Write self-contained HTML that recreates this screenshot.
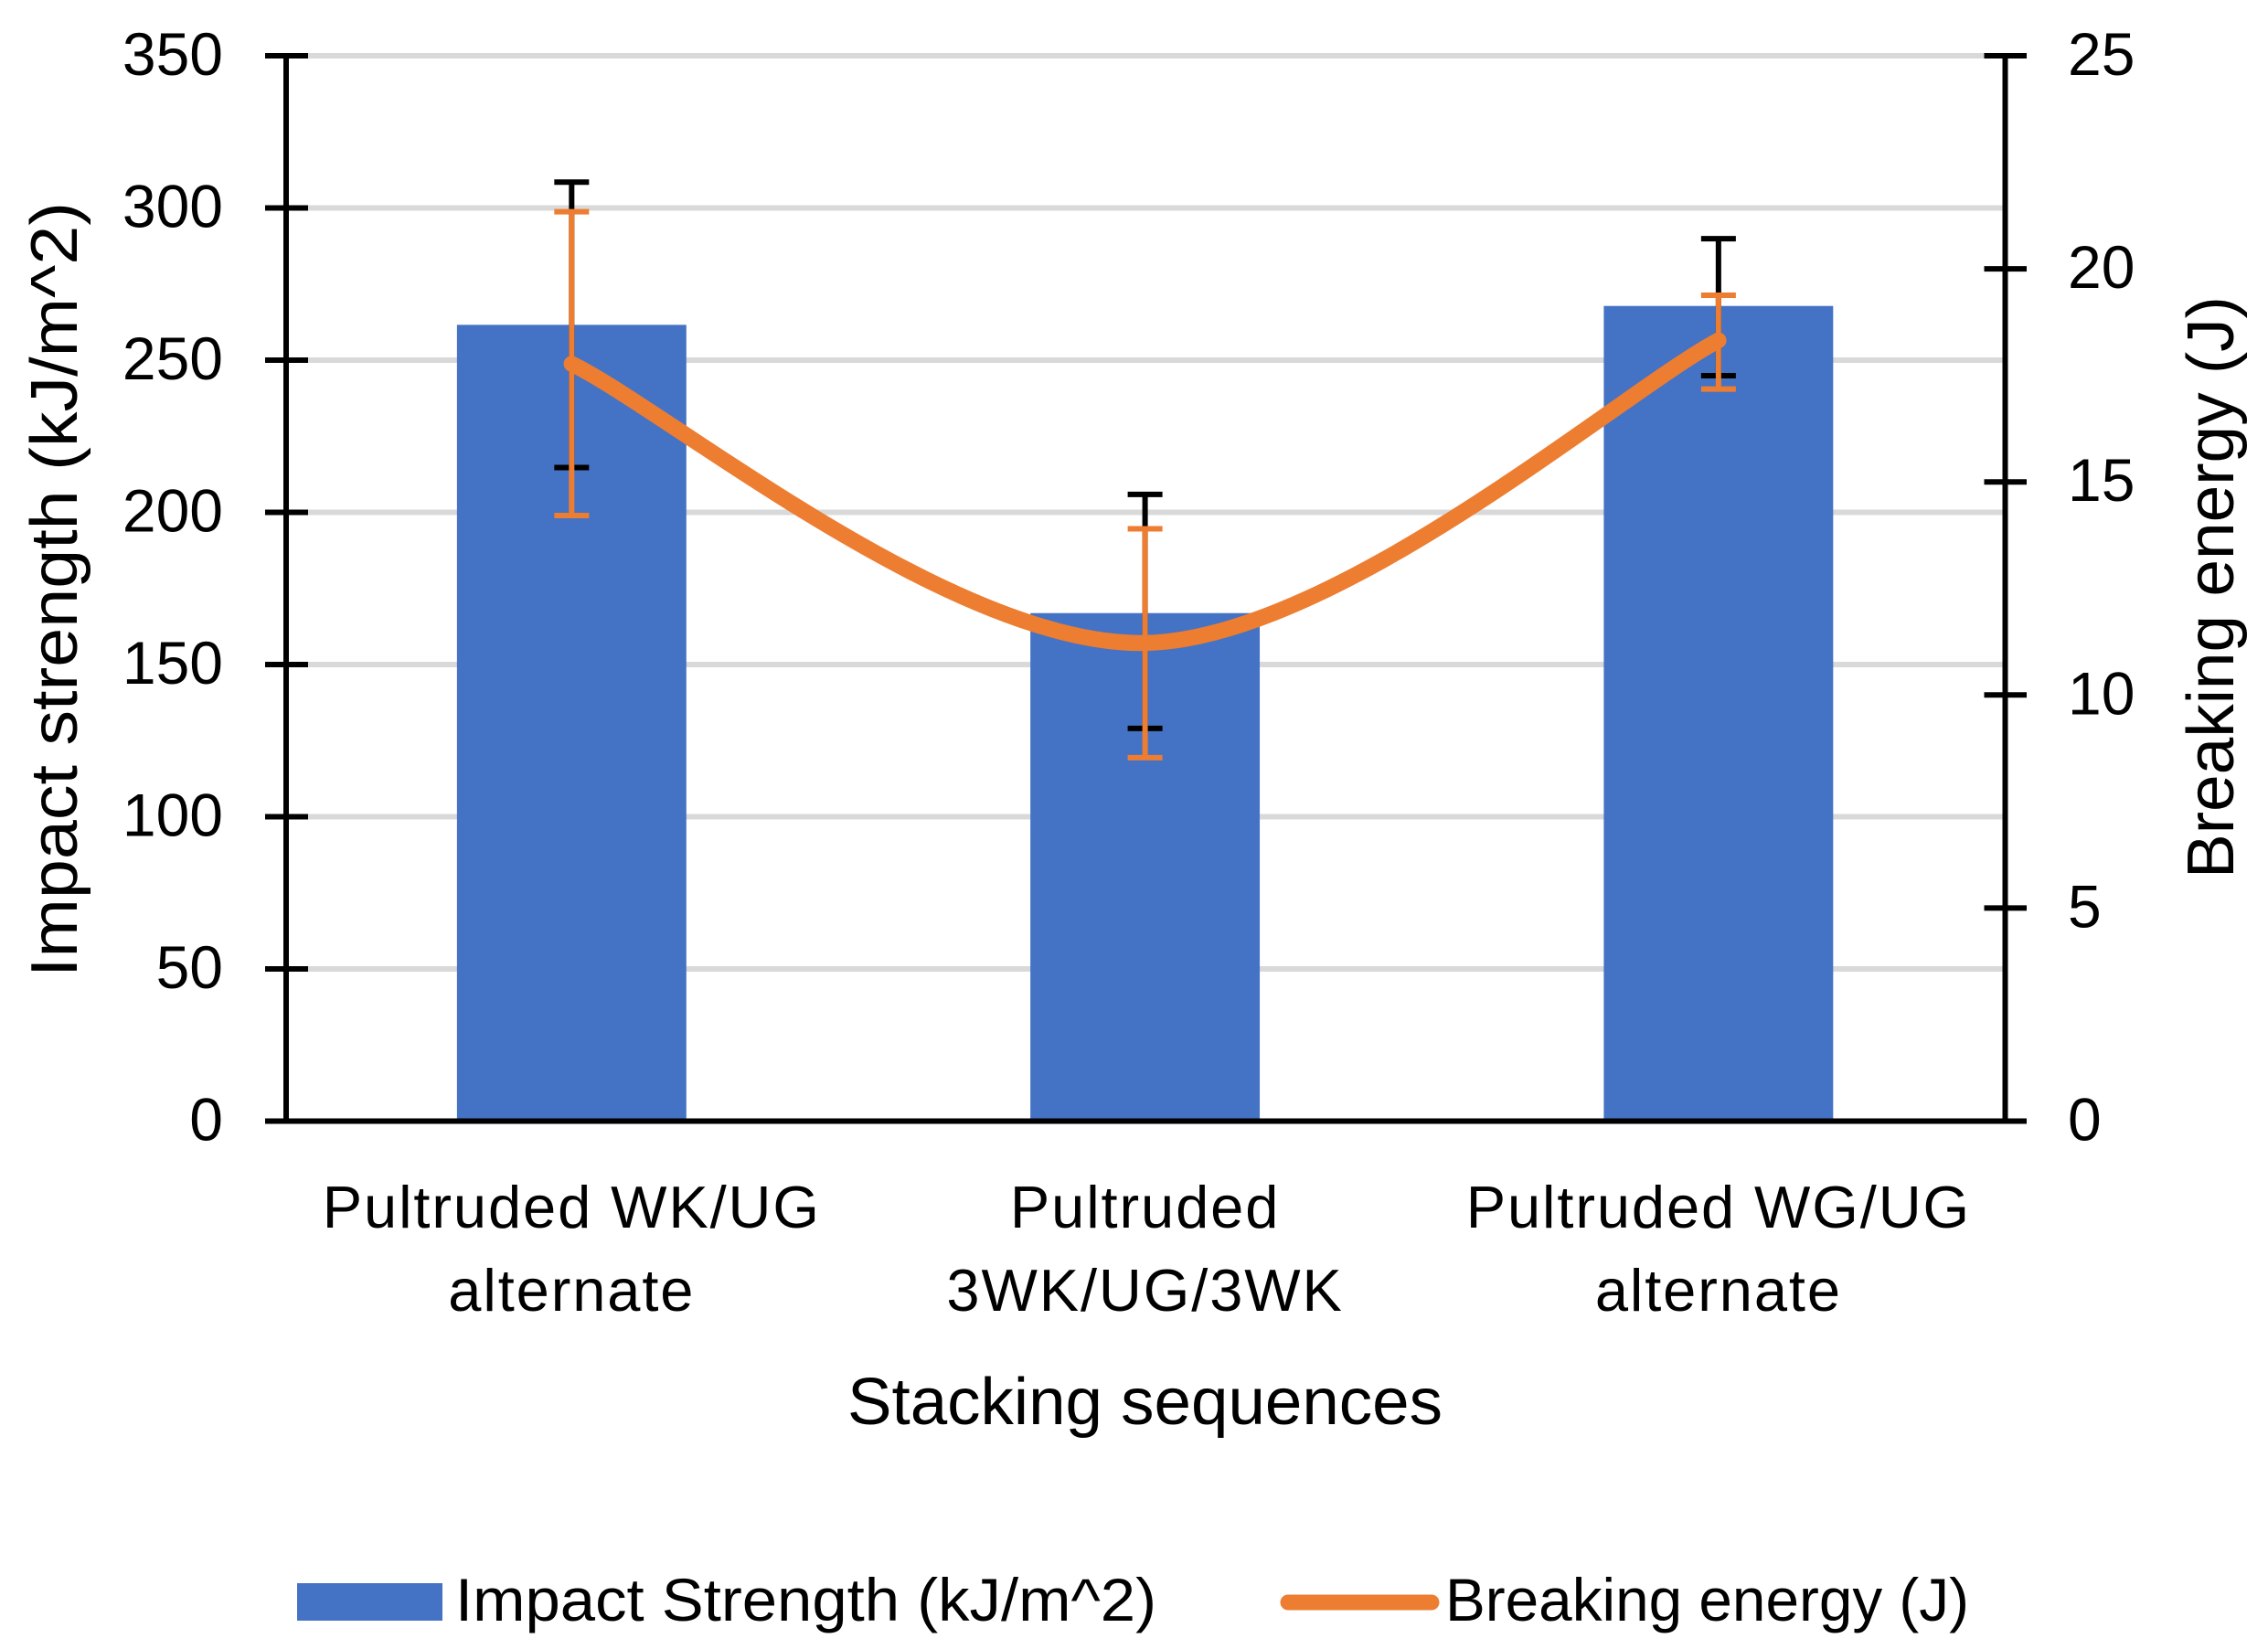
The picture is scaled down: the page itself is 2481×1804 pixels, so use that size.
<!DOCTYPE html>
<html>
<head>
<meta charset="utf-8">
<title>Impact strength and breaking energy</title>
<style>
html,body{margin:0;padding:0;background:#fff;}
svg{display:block;}
text{font-family:"Liberation Sans",sans-serif;fill:#000;}
.tick{font-size:66px;}
.cat{font-size:65px;letter-spacing:1.9px;text-anchor:middle;}
.title{font-size:72px;}
.leg{font-size:66px;}
</style>
</head>
<body>
<svg id="chart" xmlns="http://www.w3.org/2000/svg" width="2481" height="1804" viewBox="0 0 2481 1804">
  <rect x="0" y="0" width="2481" height="1804" fill="#fff"/>
  <g id="grid"></g>
  <g id="bars"></g>
  <g id="impactErr"></g>
  <g id="energyLine"></g>
  <g id="energyErr"></g>
  <g id="axes"></g>
  <g id="labels"></g>

  <text class="title" transform="translate(84,1069) rotate(-90)" textLength="848" lengthAdjust="spacingAndGlyphs">Impact strength (kJ/m^2)</text>
  <text class="title" transform="translate(2443,961) rotate(-90)" textLength="637" lengthAdjust="spacingAndGlyphs">Breaking energy (J)</text>
  <text class="title" x="927" y="1558" textLength="651" lengthAdjust="spacingAndGlyphs">Stacking sequences</text>

  <g>
    <rect x="325" y="1732" width="159" height="41" fill="#4472C4"/>
    <text class="leg" x="498" y="1773" textLength="767" lengthAdjust="spacingAndGlyphs">Impact Strength (kJ/m^2)</text>
    <line x1="1409" y1="1753" x2="1566" y2="1753" stroke="#ED7D31" stroke-width="17" stroke-linecap="round"/>
    <text class="leg" x="1581" y="1773" textLength="573" lengthAdjust="spacingAndGlyphs">Breaking energy (J)</text>
  </g>
</svg>
<script>
const categories = [["Pultruded WK/UG", "alternate"], ["Pultruded", "3WK/UG/3WK"], ["Pultruded WG/UG", "alternate"]];
const impactStrength = [261.6, 166.9, 267.8];
const impactUpper = [308.5, 205.9, 289.9];
const impactLower = [214.7, 129.0, 244.9];
const breakingEnergy = [17.77, 11.22, 18.32];
const energyUpper = [21.34, 13.9, 19.38];
const energyLower = [14.21, 8.53, 17.18];
const leftTicks = [0, 50, 100, 150, 200, 250, 300, 350];
const rightTicks = [0, 5, 10, 15, 20, 25];

const NS = "http://www.w3.org/2000/svg";
const plotLeft = 313, plotRight = 2193.5, plotTop = 61, plotBottom = 1226.5;
const leftMax = 350, rightMax = 25;
const bandStart = 311.7;
const band = (plotRight - bandStart) / categories.length;
const barWidth = band / 2.5;

function xAt(i) { return bandStart + band * (i + 0.5); }
function yLeft(v) { return plotBottom - (v / leftMax) * (plotBottom - plotTop); }
function yRight(v) { return plotBottom - (v / rightMax) * (plotBottom - plotTop); }

function make(tag, parent, attrs) {
  const el = document.createElementNS(NS, tag);
  for (const k in attrs) el.setAttribute(k, attrs[k]);
  parent.appendChild(el);
  return el;
}
function seg(parent, x1, y1, x2, y2, color, w) {
  return make("line", parent, { x1: x1, y1: y1, x2: x2, y2: y2, stroke: color, "stroke-width": w });
}

const gridG = document.getElementById("grid");
const barsG = document.getElementById("bars");
const impactErrG = document.getElementById("impactErr");
const energyLineG = document.getElementById("energyLine");
const energyErrG = document.getElementById("energyErr");
const axesG = document.getElementById("axes");
const labelsG = document.getElementById("labels");

leftTicks.forEach(function (t) {
  if (t === 0) return;
  const gl = seg(gridG, plotLeft, yLeft(t), plotRight, yLeft(t), "#D9D9D9", 6);
  
  
});

impactStrength.forEach(function (v, i) {
  const r = make("rect", barsG, { x: xAt(i) - barWidth / 2, y: yLeft(v), width: barWidth, height: plotBottom - yLeft(v), fill: "#4472C4" });
  
  
});

function errorBar(parent, x, yHi, yLo, color, name) {
  const g = make("g", parent, {});
  
  
  seg(g, x, yHi, x, yLo, color, 6);
  seg(g, x - 19, yHi, x + 19, yHi, color, 6);
  seg(g, x - 19, yLo, x + 19, yLo, color, 6);
}
impactStrength.forEach(function (v, i) {
  errorBar(impactErrG, xAt(i), yLeft(impactUpper[i]), yLeft(impactLower[i]), "#000", "impact-error-bar");
});
breakingEnergy.forEach(function (v, i) {
  errorBar(energyErrG, xAt(i), yRight(energyUpper[i]), yRight(energyLower[i]), "#ED7D31", "energy-error-bar");
});

const pts = breakingEnergy.map(function (v, i) { return [xAt(i), yRight(v)]; });
let d = "M" + pts[0][0] + " " + pts[0][1];
for (let i = 0; i < pts.length - 1; i++) {
  const p0 = pts[Math.max(i - 1, 0)], p1 = pts[i], p2 = pts[i + 1], p3 = pts[Math.min(i + 2, pts.length - 1)];
  const c1x = p1[0] + (p2[0] - p0[0]) / 6, c1y = p1[1] + (p2[1] - p0[1]) / 6;
  const c2x = p2[0] - (p3[0] - p1[0]) / 6, c2y = p2[1] - (p3[1] - p1[1]) / 6;
  d += " C" + c1x + " " + c1y + " " + c2x + " " + c2y + " " + p2[0] + " " + p2[1];
}
const curve = make("path", energyLineG, { d: d, fill: "none", stroke: "#ED7D31", "stroke-width": 17.5, "stroke-linecap": "round", "stroke-linejoin": "round" });



const leftAxis = seg(axesG, plotLeft, plotTop, plotLeft, plotBottom, "#000", 6);


const rightAxis = seg(axesG, plotRight, plotTop, plotRight, plotBottom, "#000", 6);


const xAxis = seg(axesG, plotLeft - 23, plotBottom, plotRight + 23.5, plotBottom, "#000", 6);



leftTicks.forEach(function (t) {
  const y = yLeft(t);
  const mark = seg(axesG, plotLeft - 23, y, plotLeft + 24, y, "#000", 6);
  
  
  const lab = make("text", labelsG, { class: "tick", x: 244, y: y + 21, "text-anchor": "end" });
  lab.textContent = t;
  
  
});
rightTicks.forEach(function (t) {
  const y = yRight(t);
  const mark = seg(axesG, plotRight - 23, y, plotRight + 23.5, y, "#000", 6);
  
  
  const lab = make("text", labelsG, { class: "tick", x: 2262, y: y + 21 });
  lab.textContent = t;
  
  
});
categories.forEach(function (lines, i) {
  lines.forEach(function (line, j) {
    const lab = make("text", labelsG, { class: "cat", x: xAt(i), y: 1343 + j * 91 });
    lab.textContent = line;
    
    
  });
});
</script>
</body>
</html>
